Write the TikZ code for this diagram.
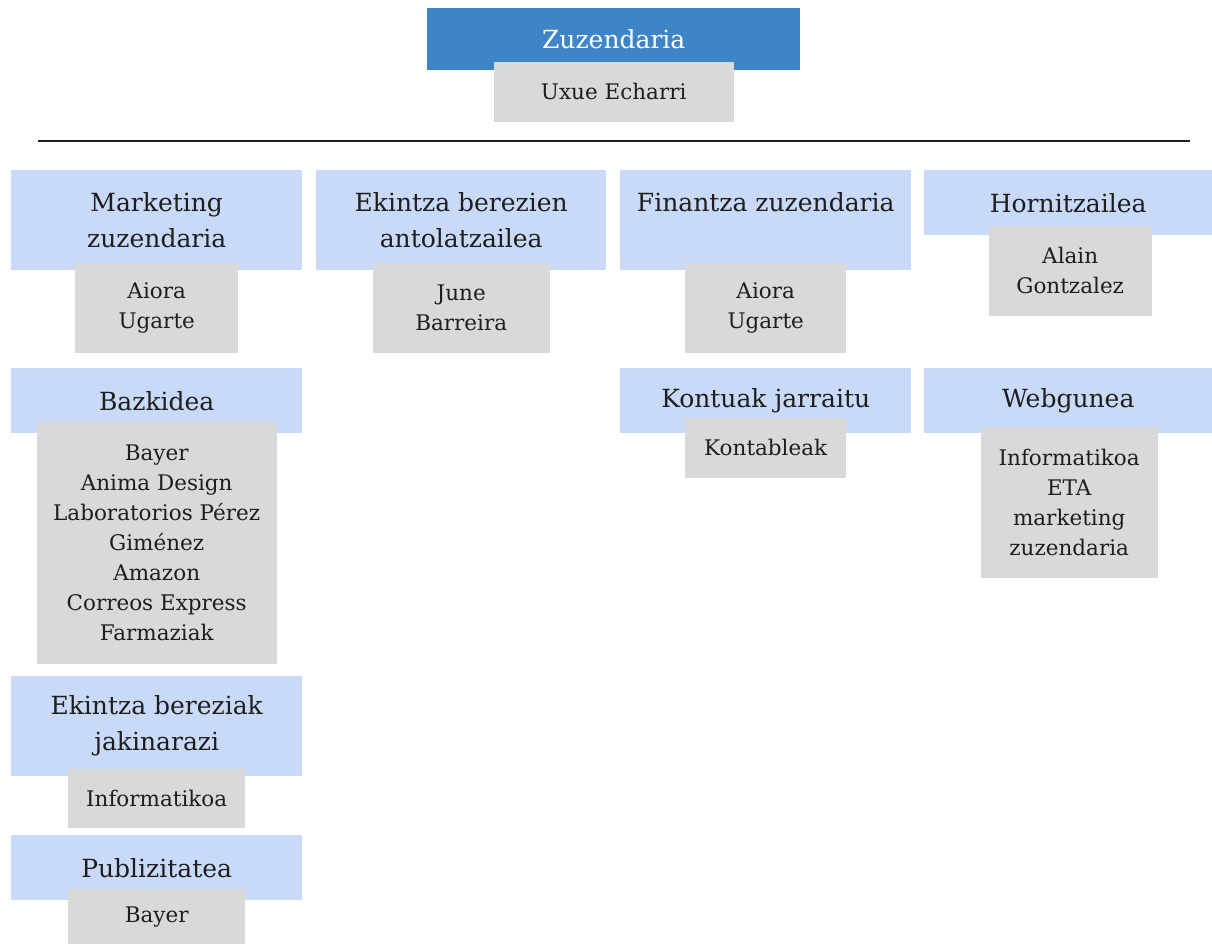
\documentclass[tikz,border=0pt]{standalone}
\usepackage{fontspec}
\setmainfont{DejaVu Serif}
\usepackage{tikz}
\usetikzlibrary{positioning}

\definecolor{topblue}{HTML}{3D85C6}
\definecolor{roleblue}{HTML}{C9DAF8}
\definecolor{namegray}{HTML}{D9D9D9}
\definecolor{inkgray}{HTML}{1E1E1E}

\newcommand{\rolefont}{\fontsize{25}{36}\selectfont}
\newcommand{\namefont}{\fontsize{21.5}{30}\selectfont}

\begin{document}
\begin{tikzpicture}[
    x=1pt, y=-1pt,
    role_box/.style={fill=roleblue, text=inkgray, inner sep=0pt, align=center,
                     font=\rolefont, anchor=north west},
    top_box/.style={role_box, fill=topblue, text=white},
    name_box/.style={fill=namegray, text=inkgray, inner sep=0pt, align=center,
                     font=\namefont},
    sep_line/.style={draw=inkgray, line width=1.2pt}
]
\useasboundingbox (0,0) rectangle (1212,944);

% --- TOP ---
\node[top_box, minimum width=373pt, minimum height=62pt] (zuz) at (427,8) {Zuzendaria};
\node[name_box, minimum width=240pt, minimum height=60pt, below=-9pt of zuz] (zuz_n) {Uxue Echarri};

\coordinate (sep_l) at (38,141);
\coordinate (sep_r) at (1190,141);
\draw[sep_line] (sep_l) -- (sep_r);

% --- FIRST ROW ---
\node[role_box, minimum width=291pt, minimum height=100pt] (mkt) at (11,170) {Marketing\\zuzendaria};
\node[name_box, minimum width=163pt, minimum height=90pt, below=-8pt of mkt] (mkt_n) {Aiora\\Ugarte};

\node[role_box, minimum width=290pt, minimum height=100pt] (ekb) at (316,170) {Ekintza berezien\\antolatzailea};
\node[name_box, minimum width=177pt, minimum height=90pt, below=-8pt of ekb] (ekb_n) {June\\Barreira};

\node[role_box, minimum width=291pt, minimum height=100pt] (fin) at (620,170) {Finantza zuzendaria\\\mbox{}};
\node[name_box, minimum width=161pt, minimum height=90pt, below=-8pt of fin] (fin_n) {Aiora\\Ugarte};

\node[role_box, minimum width=288pt, minimum height=65pt] (hor) at (924,170) {Hornitzailea};
\node[name_box, minimum width=163pt, minimum height=90pt, below=-10pt of hor, xshift=2pt] (hor_n) {Alain\\Gontzalez};

% --- SECOND ROW ---
\node[role_box, minimum width=291pt, minimum height=65pt] (baz) at (11,368) {Bazkidea};
\node[name_box, minimum width=240pt, minimum height=242pt, below=-12pt of baz] (baz_n)
    {Bayer\\Anima Design\\Laboratorios Pérez\\Giménez\\Amazon\\Correos Express\\Farmaziak};

\node[role_box, minimum width=291pt, minimum height=65pt] (kon) at (620,368) {Kontuak jarraitu};
\node[name_box, minimum width=161pt, minimum height=60pt, below=-16pt of kon] (kon_n) {Kontableak};

\node[role_box, minimum width=288pt, minimum height=65pt] (web) at (924,368) {Webgunea};
\node[name_box, minimum width=177pt, minimum height=151pt, below=-7pt of web, xshift=1pt] (web_n)
    {Informatikoa\\ETA\\marketing\\zuzendaria};

% --- LEFT COLUMN, LOWER ---
\node[role_box, minimum width=291pt, minimum height=100pt] (ekj) at (11,676) {Ekintza bereziak\\jakinarazi};
\node[name_box, minimum width=177pt, minimum height=59pt, below=-8pt of ekj] (ekj_n) {Informatikoa};

\node[role_box, minimum width=291pt, minimum height=65pt] (pub) at (11,835) {Publizitatea};
\node[name_box, minimum width=177pt, minimum height=56pt, below=-12pt of pub] (pub_n) {Bayer};

\end{tikzpicture}
\end{document}
